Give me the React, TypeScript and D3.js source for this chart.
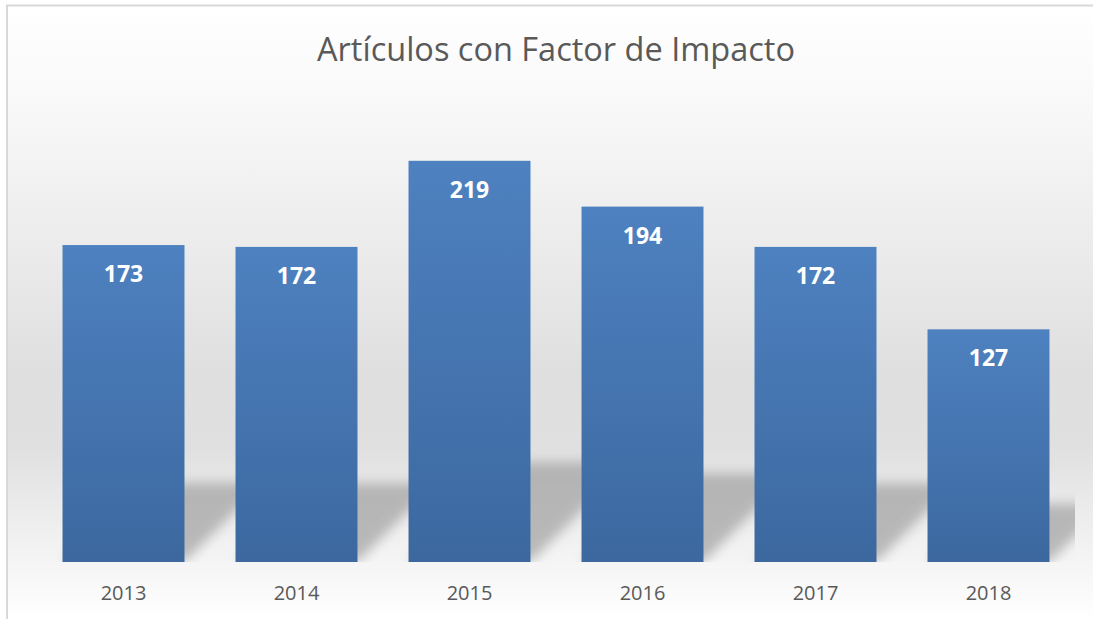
import { useRef, useEffect } from 'react';
import * as d3 from 'd3';

// Data
const years = ['2013', '2014', '2015', '2016', '2017', '2018'];
const articles = [173, 172, 219, 194, 172, 127];
const chartTitle = 'Artículos con Factor de Impacto';

const width = 1093;
const height = 619;
const font = '"Open Sans", Lato, sans-serif';

export default function App() {
  const svgRef = useRef<SVGSVGElement>(null);

  useEffect(() => {
    if (!svgRef.current) return;
    const svg = d3.select(svgRef.current);
    svg.selectAll('*').remove();

    const plot = { left: 37, right: 1075, top: 104, bottom: 562 };

    const x = d3.scaleBand<string>()
      .domain(years)
      .range([plot.left, plot.right])
      .paddingInner(0.295)
      .paddingOuter(0.1475);

    const y = d3.scaleLinear()
      .domain([0, 250])
      .range([plot.bottom, plot.top]);

    const data = years.map((yr, i) => ({ yr, v: articles[i] }));

    const defs = svg.append('defs');

    // chart area background: white -> gray -> white
    const bg = defs.append('linearGradient')
      .attr('id', 'bg-grad')
      .attr('x1', '0%').attr('y1', '0%')
      .attr('x2', '0%').attr('y2', '100%');
    [
      { o: '0%', c: '#ffffff' },
      { o: '15%', c: '#f9f9f9' },
      { o: '40%', c: '#ebebeb' },
      { o: '60%', c: '#dfdfdf' },
      { o: '72%', c: '#e0e0e0' },
      { o: '90%', c: '#f4f4f4' },
      { o: '100%', c: '#ffffff' },
    ].forEach(s => bg.append('stop').attr('offset', s.o).attr('stop-color', s.c));

    // bar fill gradient
    const barGrad = defs.append('linearGradient')
      .attr('id', 'bar-grad')
      .attr('x1', '0%').attr('y1', '0%')
      .attr('x2', '0%').attr('y2', '100%');
    barGrad.append('stop').attr('offset', '0%').attr('stop-color', '#4e81c0');
    barGrad.append('stop').attr('offset', '100%').attr('stop-color', '#3c689f');

    const blur = defs.append('filter')
      .attr('id', 'shadow-blur')
      .attr('x', '-30%').attr('y', '-30%')
      .attr('width', '160%').attr('height', '160%');
    blur.append('feGaussianBlur').attr('stdDeviation', 6);

    defs.append('clipPath')
      .attr('id', 'plot-clip')
      .append('rect')
      .attr('x', plot.left)
      .attr('y', 0)
      .attr('width', plot.right - plot.left)
      .attr('height', plot.bottom);

    // background + border
    svg.append('rect')
      .attr('x', 8).attr('y', 6)
      .attr('width', width - 8).attr('height', height - 6)
      .attr('fill', 'url(#bg-grad)');
    svg.append('path')
      .attr('d', `M7,${height} V5.5 H${width}`)
      .attr('fill', 'none')
      .attr('stroke', '#d9d9d9')
      .attr('stroke-width', 2);

    // perspective shadows (skewed up-right, clipped to plot)
    const shadowScale = 0.25;
    svg.append('g')
      .attr('clip-path', 'url(#plot-clip)')
      .selectAll('path')
      .data(data)
      .enter().append('path')
      .attr('d', d => {
        const x0 = x(d.yr)!;
        const x1 = x0 + x.bandwidth();
        const h = (plot.bottom - y(d.v)) * shadowScale;
        const b = plot.bottom;
        return `M${x0},${b} L${x1},${b} L${x1 + h},${b - h} L${x0 + h},${b - h} Z`;
      })
      .attr('fill', '#a0a0a0')
      .attr('opacity', 0.7)
      .attr('filter', 'url(#shadow-blur)');

    // bars
    svg.append('g')
      .selectAll('rect')
      .data(data)
      .enter().append('rect')
      .attr('x', d => x(d.yr)!)
      .attr('y', d => y(d.v))
      .attr('width', x.bandwidth())
      .attr('height', d => plot.bottom - y(d.v))
      .attr('fill', 'url(#bar-grad)');

    // value labels
    svg.append('g')
      .selectAll('text')
      .data(data)
      .enter().append('text')
      .attr('x', d => x(d.yr)! + x.bandwidth() / 2)
      .attr('y', d => y(d.v) + 37)
      .attr('text-anchor', 'middle')
      .attr('font-family', font)
      .attr('font-weight', 'bold')
      .attr('font-size', 23)
      .attr('fill', '#ffffff')
      .text(d => d.v);

    // x axis labels
    const xAxis = d3.axisBottom(x).tickSize(0).tickPadding(24);
    const ax = svg.append('g')
      .attr('transform', `translate(0,${plot.bottom})`)
      .call(xAxis);
    ax.select('.domain').remove();
    ax.selectAll('text')
      .attr('font-family', font)
      .attr('font-size', 20)
      .attr('fill', '#595959');

    // title
    svg.append('text')
      .attr('x', 556)
      .attr('y', 61)
      .attr('text-anchor', 'middle')
      .attr('font-family', font)
      .attr('font-size', 32.5)
      .attr('fill', '#595959')
      .text(chartTitle);
  }, []);

  return (
    <svg
      ref={svgRef}
      width={width}
      height={height}
      style={{ position: 'absolute', left: 0, top: 0, background: '#ffffff' }}
    />
  );
}
